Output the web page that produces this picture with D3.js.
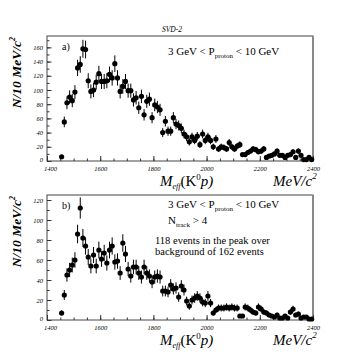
<!DOCTYPE html>
<html>
<head>
<meta charset="utf-8">
<script src="https://cdn.jsdelivr.net/npm/d3@7"></script>
<style>
  body { margin: 0; background: #fff; }
  svg { display: block; }
  text { font-family: "Liberation Serif", "DejaVu Serif", serif; fill: #000; }
</style>
</head>
<body>
<script>
// counts per 10 MeV bin, bins starting at 1450 MeV
const binStart = 1450, binWidth = 10;

const countsA = [6, 55, 82, 90, 85, 97, 131, 136, 158, 157,
  113, 98, 100, 111, 123, 112, 112, 113, 122, 117,
  137, 117, 98, 105, 112, 99, 99, 86, 89, 75,
  91, 65, 84, 87, 61, 79, 76, 72, 40, 56,
  42, 42, 61, 52, 50, 46, 38, 34, 27, 34,
  29, 35, 23, 38, 29, 34, 29, 20, 31, 17,
  20, 19, 17, 26, 20, 17, 21, 23, 9, 9,
  12, 14, 17, 16, 13, 14, 17, 5, 7, 8,
  10, 14, 8, 8, 5, 8, 9, 13, 5, 14,
  8, 2, 2, 5, 2];

const countsB = [7, 25, 45, 50, 55, 60, 86, 112, 82, 74,
  63, 54, 65, 54, 70, 61, 67, 57, 70, 74,
  58, 59, 47, 77, 66, 51, 44, 53, 53, 47,
  43, 53, 47, 44, 38, 43, 44, 43, 29, 29,
  28, 35, 31, 32, 23, 34, 30, 19, 14, 20,
  22, 24, 22, 18, 17, 24, 17, 7, 10, 12,
  12, 12, 13, 12, 13, 12, 12, 4, 4, 13,
  12, 10, 8, 7, 13, 11, 8, 7, 5, 4,
  3, 5, 2, 2, 4, 2, 8, 11, 5, 6,
  2, 3, 3, 1, 1];

const xTicks = [1400, 1600, 1800, 2000, 2200, 2400];
const yTicksA = [0, 20, 40, 60, 80, 100, 120, 140, 160];
const yTicksB = [0, 20, 40, 60, 80, 100, 120];

const W = 349, H = 356;
const svg = d3.select("body").append("svg")
    .attr("width", W)
    .attr("height", H);

// top caption
svg.append("text")
    .attr("x", 172).attr("y", 32)
    .attr("text-anchor", "middle")
    .attr("font-size", 7.5)
    .attr("font-style", "italic")
    .text("SVD-2");

function drawPanel(cfg) {
    const counts = cfg.counts;
    const data = counts.map((n, i) => ({m: binStart + binWidth * (i + 0.5), n: n}));

    const x = d3.scaleLinear().domain([1400, 2400]).range([47, 313]);
    const y = d3.scaleLinear().domain(cfg.yDomain).range([cfg.bottom, cfg.top]);

    const g = svg.append("g");

    // frame
    g.append("rect")
        .attr("x", 47).attr("y", cfg.top)
        .attr("width", 266).attr("height", cfg.bottom - cfg.top)
        .attr("fill", "none")
        .attr("stroke", "#444")
        .attr("stroke-width", 1);
    g.append("line")
        .attr("x1", 313).attr("x2", 313)
        .attr("y1", cfg.top).attr("y2", cfg.bottom)
        .attr("stroke", "#888")
        .attr("stroke-width", 2);

    //bottom axis, ticks pointing in
    const xAxis = d3.axisBottom(x).tickValues(xTicks).tickSize(-5).tickFormat(d3.format("d"));
    const xMinor = d3.axisBottom(x).tickValues(d3.range(1400, 2401, 50)).tickSize(-2.5).tickFormat("");
    const gx = g.append("g").attr("transform", `translate(0,${cfg.bottom})`);
    gx.call(xMinor);
    const gx2 = g.append("g").attr("transform", `translate(0,${cfg.bottom})`).call(xAxis);
    [gx, gx2].forEach(s => {
        s.select(".domain").remove();
        s.selectAll("line").attr("stroke", "#333");
    });
    gx2.selectAll("text")
        .attr("y", 5.5)
        .attr("dx", d => d === 1400 ? 3 : 0)
        .attr("font-size", 6.5)
        .attr("font-style", "italic")
        .attr("font-family", "Liberation Serif");

    // left axis
    const yAxis = d3.axisLeft(y).tickValues(cfg.yTicks).tickSize(-4.5);
    const yMinor = d3.axisLeft(y).tickValues(d3.range(0, cfg.yDomain[1], 10)).tickSize(-2.5).tickFormat("");
    const gy = g.append("g").attr("transform", "translate(47,0)").call(yMinor);
    const gy2 = g.append("g").attr("transform", "translate(47,0)").call(yAxis);
    [gy, gy2].forEach(s => {
        s.select(".domain").remove();
        s.selectAll("line").attr("stroke", "#333");
    });
    gy2.selectAll("text")
        .attr("x", -4)
        .attr("dy", d => d === 0 ? "0.1em" : "0.32em")
        .attr("font-size", 6.5)
        .attr("font-style", "italic")
        .attr("font-family", "Liberation Serif");

    // y title
    const yt = g.append("text")
        .attr("transform", `translate(21,${cfg.top + 1}) rotate(-90)`)
        .attr("text-anchor", "end")
        .attr("font-size", 13.5)
        .attr("font-style", "italic")
        .attr("font-weight", "bold");
    yt.append("tspan").text("N/10 MeV/c");
    yt.append("tspan").attr("font-size", 8).attr("dy", -6).text("2");

    // x title
    const xt = g.append("text")
        .attr("x", 160).attr("y", cfg.bottom + 25)
        .attr("font-size", 15);
    xt.append("tspan").attr("font-style", "italic").text("M");
    xt.append("tspan").attr("font-size", 8).attr("font-style", "italic").attr("dy", 3).text("eff");
    xt.append("tspan").attr("dy", -3).text("(K");
    xt.append("tspan").attr("font-size", 9).attr("dy", -6).text("0");
    xt.append("tspan").attr("font-style", "italic").attr("dy", 6).text("p)");

    const ut = g.append("text")
        .attr("x", 273).attr("y", cfg.bottom + 25)
        .attr("font-size", 15)
        .attr("font-style", "italic");
    ut.append("tspan").text("MeV/c");
    ut.append("tspan").attr("font-size", 9).attr("dy", -7).text("2");

    // error bars
    g.append("g")
        .selectAll("line")
        .data(data)
        .enter()
        .append("line")
        .attr("x1", d => x(d.m))
        .attr("x2", d => x(d.m))
        .attr("y1", d => y(Math.max(0, d.n - Math.sqrt(d.n))))
        .attr("y2", d => y(d.n + Math.sqrt(d.n)))
        .attr("stroke", "#000")
        .attr("stroke-width", 1);

    g.append("g")
        .selectAll("circle")
        .data(data)
        .enter()
        .append("circle")
        .attr("cx", d => x(d.m))
        .attr("cy", d => y(d.n))
        .attr("r", 2.6)
        .attr("fill", "#000");

    // panel letter
    g.append("text")
        .attr("x", 62).attr("y", cfg.top + 14)
        .attr("font-size", 10)
        .text(cfg.letter);

    cfg.notes(g);
}

function momentumCut(g, yPos) {
    const t = g.append("text").attr("x", 168).attr("y", yPos).attr("font-size", 11);
    t.append("tspan").text("3 GeV < P");
    t.append("tspan").attr("font-size", 7).attr("dy", 3).text("proton");
    t.append("tspan").attr("dy", -3).text(" < 10 GeV");
}

drawPanel({
    counts: countsA,
    yDomain: [0, 176],
    yTicks: yTicksA,
    top: 36, bottom: 161,
    letter: "a)",
    notes: g => momentumCut(g, 55)
});

drawPanel({
    counts: countsB,
    yDomain: [0, 125],
    yTicks: yTicksB,
    top: 195, bottom: 320,
    letter: "b)",
    notes: g => {
        momentumCut(g, 208);
        const t = g.append("text").attr("x", 168).attr("y", 224).attr("font-size", 11);
        t.append("tspan").text("N");
        t.append("tspan").attr("font-size", 7).attr("dy", 3).text("track");
        t.append("tspan").attr("dy", -3).text(" > 4");
        g.append("text").attr("x", 155).attr("y", 244).attr("font-size", 10.5)
            .text("118 events in the peak over");
        g.append("text").attr("x", 155).attr("y", 255).attr("font-size", 10.5)
            .text("background of 162 events");
    }
});
</script>
</body>
</html>
